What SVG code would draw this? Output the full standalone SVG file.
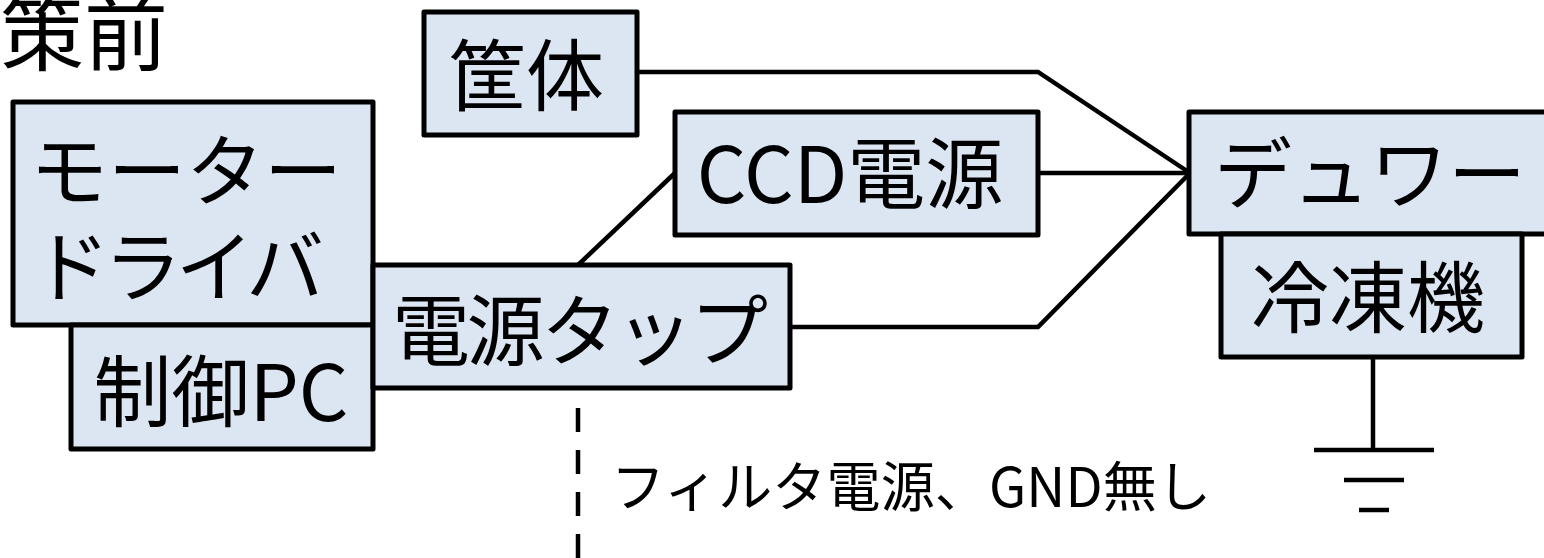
<svg xmlns="http://www.w3.org/2000/svg" width="1544" height="558" viewBox="0 0 1544 558">
<style>
.box{fill:#dce6f2;stroke:#000;stroke-width:5;stroke-linejoin:round}
.t{font-family:"Noto Sans CJK JP","Noto Sans",sans-serif;font-size:78px;fill:#000;text-anchor:middle}
.ln{fill:none;stroke:#000;stroke-width:4.5}
</style>
<rect width="1544" height="558" fill="#fff"/>
<text id="title" x="0" y="64" class="t" style="text-anchor:start;font-size:84px">策前</text>
<g id="connectors">
<polyline class="ln" points="637,72 1038,72 1190,173"/>
<line class="ln" x1="1038" y1="173" x2="1190" y2="173"/>
<polyline class="ln" points="790,327 1038,327 1190,173"/>
<line class="ln" x1="578" y1="265" x2="675" y2="173"/>
<line class="ln" x1="578" y1="408" x2="578" y2="558" stroke-width="6" stroke-dasharray="24,18"/>
<line class="ln" x1="1373" y1="357" x2="1373" y2="450"/>
<line class="ln" x1="1314" y1="450" x2="1434" y2="450"/>
<line class="ln" x1="1344" y1="480" x2="1404" y2="480"/>
<line class="ln" x1="1359" y1="510" x2="1389" y2="510"/>
</g>
<g id="motor"><rect class="box" x="13" y="102" width="360" height="223"/>
<text class="t" x="186" y="200">モーター</text><text class="t" x="178" y="296" textLength="292" lengthAdjust="spacing">ドライバ</text></g>
<g id="pc"><rect class="box" x="71" y="325" width="302" height="124"/>
<text class="t" x="221" y="421">制御PC</text></g>
<g id="tap"><rect class="box" x="373" y="265" width="417" height="123"/>
<text class="t" x="580" y="360" textLength="376" lengthAdjust="spacing">電源タップ</text></g>
<g id="case"><rect class="box" x="424" y="12" width="213" height="123"/>
<text class="t" x="526" y="105">筐体</text></g>
<g id="ccd"><rect class="box" x="675" y="112" width="363" height="123"/>
<text class="t" x="850" y="203">CCD電源</text></g>
<g id="dewar"><rect class="box" x="1189" y="112" width="365" height="122"/>
<text class="t" x="1370" y="203">デュワー</text></g>
<g id="cooler"><rect class="box" x="1221" y="234" width="301" height="123"/>
<text class="t" x="1368" y="327">冷凍機</text></g>
<text id="note" x="611" y="507" class="t" style="text-anchor:start;font-size:54px" textLength="600" lengthAdjust="spacing">フィルタ電源、GND無し</text>
</svg>
